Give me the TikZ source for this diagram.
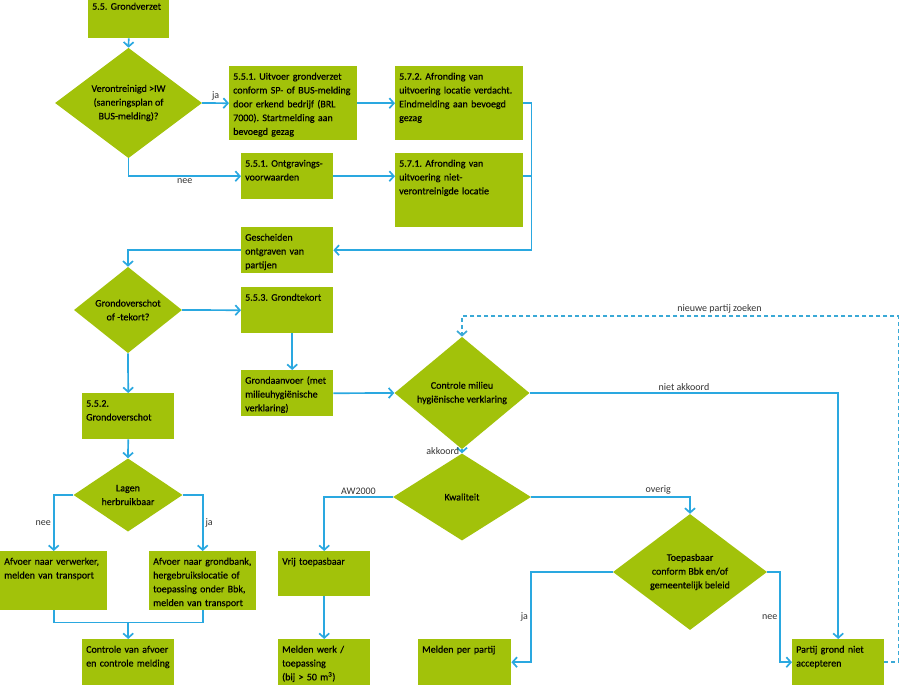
\documentclass[tikz,border=0pt]{standalone}
\usepackage{fontspec}
\setmainfont{Carlito}
\newfontfamily\boxfont{Carlito}[FakeBold=0.5]
\usepackage{tikz}
\usetikzlibrary{arrows.meta,shapes.geometric}
\definecolor{bbGreen}{HTML}{A2C20A}
\definecolor{bbBlue}{HTML}{2AA8E0}
\definecolor{bbDash}{HTML}{3AA9D6}
\frenchspacing

\begin{document}
\begin{tikzpicture}[x=1pt, y=-1pt,
  every node/.style={font=\boxfont\fontsize{10}{13.8}\selectfont},
  stepbox/.style 2 args={rectangle, fill=bbGreen, anchor=north west, align=left,
                inner xsep=4pt, inner ysep=4pt, text width=#1pt, text height=9.5pt, text depth=#2pt},
  dia/.style={diamond, fill=bbGreen, inner sep=0pt, align=center},
  lbl/.style={font=\fontsize{10}{13.8}\selectfont, text=black!80, inner sep=2pt},
  link/.style={draw=bbBlue, line width=1.7pt},
  flow/.style={link, -{Straight Barb[length=4.5pt,width=10pt]}},
  seek/.style={draw=bbDash, line width=1.7pt, dash pattern=on 4pt off 3pt, -{Straight Barb[length=4.5pt,width=10pt]}}
]
  \useasboundingbox (0,0) rectangle (900,685);
  % upper part
  \node[stepbox={73}{24.5}] (gv) at (88,-4) {5.5. Grondverzet};
  \node[dia, minimum width=147pt, minimum height=92pt] (qiw) at (128.5,103) {Verontreinigd >IW\\(saneringsplan of\\BUS-melding)?};
  \node[stepbox={120}{56.5}] (uitv) at (229,66) {5.5.1. Uitvoer grondverzet\\conform SP- of BUS-melding\\door erkend bedrijf (BRL\\7000). Startmelding aan\\bevoegd gezag};
  \node[stepbox={84}{28.5}] (ontgr) at (241,153) {5.5.1. Ontgravings-\\voorwaarden};
  \node[stepbox={120}{56.5}] (afr2) at (395,66) {5.7.2. Afronding van\\uitvoering locatie verdacht.\\Eindmelding aan bevoegd\\gezag};
  \node[stepbox={120}{56.5}] (afr1) at (395,153) {5.7.1. Afronding van\\uitvoering niet-\\verontreinigde locatie};
  \node[stepbox={84}{28.5}] (gesch) at (241,227) {Gescheiden\\ontgraven van\\partijen};
  \node[dia, minimum width=108pt, minimum height=68pt] (qbal) at (128,310) {Grondoverschot\\of -tekort?};
  \node[stepbox={84}{28.5}] (tekort) at (241,287) {5.5.3. Grondtekort};
  \node[stepbox={84}{28.5}] (aanvoer) at (241,370) {Grondaanvoer (met\\milieuhygiënische\\verklaring)};
  % tekort branch
  \node[dia, minimum width=135pt, minimum height=88pt] (qmhv) at (462,393) {Controle milieu\\hygiënische verklaring};
  \node[dia, minimum width=138pt, minimum height=87pt] (kwal) at (462,497) {Kwaliteit};
  \node[stepbox={84}{27.5}] (vrij) at (278,551) {Vrij toepasbaar};
  \node[stepbox={84}{28.5}] (mwerk) at (278,639) {Melden werk /\\toepassing\\(bij > 50 m\textsuperscript{3})};
  \node[dia, minimum width=154pt, minimum height=91pt] (qbbk) at (690,572) {Toepasbaar\\conform Bbk en/of\\gemeentelijk beleid};
  \node[stepbox={85}{28.5}] (mpartij) at (418,639) {Melden per partij};
  \node[stepbox={84}{28.5}] (nietacc) at (792,639) {Partij grond niet\\accepteren};
  % overschot branch
  \node[stepbox={84}{28.5}] (oversch) at (82,393) {5.5.2.\\Grondoverschot};
  \node[dia, minimum width=109pt, minimum height=68pt] (qlagen) at (128,495) {Lagen\\herbruikbaar};
  \node[stepbox={99}{41.5}] (verwerker) at (0,551) {Afvoer naar verwerker,\\melden van transport};
  \node[stepbox={99}{41.5}] (grondbank) at (149,551) {Afvoer naar grondbank,\\hergebruikslocatie of\\toepassing onder Bbk,\\melden van transport};
  \node[stepbox={84}{28.5}] (ctrl) at (82,639) {Controle van afvoer\\en controle melding};

  \draw[flow] (gv.south) -- (qiw.north);
  \draw[flow] (qiw.east) -- node[lbl, above] {ja} (uitv.west);
  \draw[flow] (qiw.south) |- node[lbl, below, pos=0.75] {nee} (ontgr.west);
  \draw[flow] (uitv.east) -- (afr2.west);
  \draw[flow] (ontgr.east) -- (ontgr.east -| afr1.west);
  \draw[flow] (afr2.east) -- ++(8,0) |- (gesch.east);
  \draw[link] (ontgr.east -| afr1.east) -- ++(8,0);
  \draw[flow] (gesch.west) -| (qbal.north);
  \draw[flow] (qbal.east) -- (tekort.west);
  \draw[flow] ([xshift=5pt]tekort.south) -- ([xshift=5pt]aanvoer.north);
  \draw[flow] (aanvoer.east) -- (qmhv.west);
  \draw[flow] (qmhv.south) -- node[lbl, left] {akkoord} (kwal.north);
  \draw[flow] (qmhv.east) -| node[lbl, above, pos=0.25] {niet akkoord} (nietacc.north);
  \draw[seek] (nietacc.east) -- ++(14,0) -- ++(0,-346) -| node[lbl, above, pos=0.205] {nieuwe partij zoeken} (qmhv.north);
  \draw[flow] (kwal.west) -| node[lbl, above, pos=0.25] {AW2000} (vrij.north);
  \draw[flow] (vrij.south) -- (mwerk.north);
  \draw[flow] (kwal.east) -| node[lbl, above, pos=0.4] {overig} (qbbk.north);
  \draw[flow] (qbbk.west) -- ++(-82,0) |- node[lbl, left, pos=0.25] {ja} (mpartij.east);
  \draw[flow] (qbbk.east) -- ++(13,0) |- node[lbl, left, pos=0.25] {nee} (nietacc.west);
  \draw[flow] (qbal.south) -- (oversch.north);
  \draw[flow] (oversch.south) -- (qlagen.north);
  \draw[flow] (qlagen.west) -| node[lbl, left, pos=0.75] {nee} (verwerker.north);
  \draw[flow] (qlagen.east) -| node[lbl, right, pos=0.75] {ja} (grondbank.north);
  \draw[link] (verwerker.south) -- ++(0,12) coordinate (merge) -| (grondbank.south);
  \draw[flow] (merge -| ctrl.north) -- (ctrl.north);
\end{tikzpicture}
\end{document}
